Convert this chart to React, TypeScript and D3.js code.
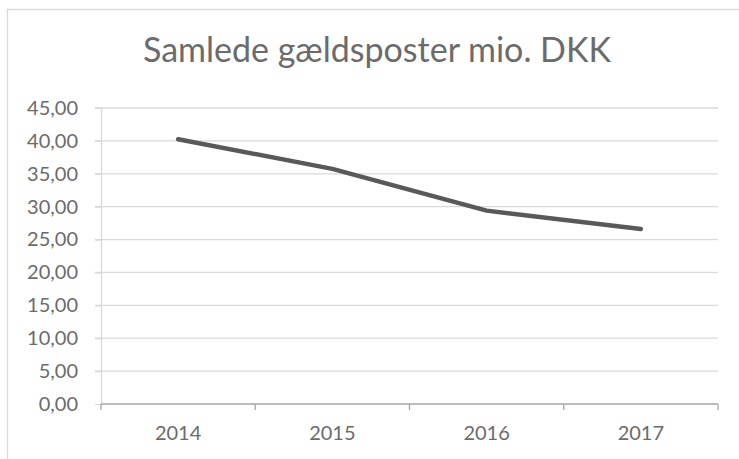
import { useEffect, useRef } from "react";
import * as d3 from "d3";

const years = ["2014", "2015", "2016", "2017"];
const debt = [40.25, 35.75, 29.4, 26.6];
const yTicks = [0, 5, 10, 15, 20, 25, 30, 35, 40, 45];
const title = "Samlede gældsposter mio. DKK";

const W = 739;
const H = 459;
const FONT = "Lato, 'Open Sans', sans-serif";
const TEXT = "#6b6b6b";

export default function App() {
  const svgRef = useRef<SVGSVGElement>(null);

  useEffect(() => {
    if (!svgRef.current) return;
    const svg = d3.select(svgRef.current);
    svg.selectAll("*").remove();

    const plot = { left: 101, right: 718, top: 108, bottom: 404 };

    const x = d3
      .scaleBand<string>()
      .domain(years)
      .range([plot.left, plot.right]);

    const y = d3
      .scaleLinear()
      .domain([0, 45])
      .range([plot.bottom, plot.top]);

    // chart area frame (runs off the right and bottom of the window)
    svg
      .append("rect")
      .attr("x", 7.5)
      .attr("y", 9.5)
      .attr("width", W + 20)
      .attr("height", H + 20)
      .attr("fill", "#fff")
      .attr("stroke", "#d9d9d9")
      .attr("stroke-width", 1.3);

    svg
      .append("text")
      .attr("x", 377)
      .attr("y", 62)
      .attr("text-anchor", "middle")
      .attr("font-family", FONT)
      .attr("font-size", 34)
      .attr("fill", TEXT)
      .text(title);

    // horizontal gridlines, with the little tick stub left of the axis
    svg
      .append("g")
      .selectAll("line")
      .data(yTicks.filter((t) => t > 0))
      .join("line")
      .attr("x1", plot.left - 6)
      .attr("x2", plot.right)
      .attr("y1", (d) => y(d))
      .attr("y2", (d) => y(d))
      .attr("stroke", "#d9d9d9")
      .attr("stroke-width", 1.3);

    // y axis line + labels
    const yAxis = svg
      .append("g")
      .attr("transform", `translate(${plot.left},0)`)
      .call(
        d3
          .axisLeft(y)
          .tickValues(yTicks)
          .tickSize(6)
          .tickSizeOuter(0)
          .tickPadding(17)
          .tickFormat((d) => d3.format(".2f")(d as number).replace(".", ","))
      );
    yAxis.select(".domain").attr("stroke", "#d9d9d9").attr("stroke-width", 1.3);
    yAxis.selectAll(".tick line").attr("stroke", "#d9d9d9").attr("stroke-width", 1.3);
    yAxis
      .selectAll("text")
      .attr("font-family", FONT)
      .attr("font-size", 20)
      .attr("fill", TEXT);

    // x axis: line, ticks on category boundaries, labels centred
    const bounds = [...years.map((d) => x(d) as number), plot.right];
    svg
      .append("line")
      .attr("x1", plot.left)
      .attr("x2", plot.right)
      .attr("y1", plot.bottom)
      .attr("y2", plot.bottom)
      .attr("stroke", "#a6a6a6")
      .attr("stroke-width", 1.5);
    svg
      .append("g")
      .selectAll("line")
      .data(bounds)
      .join("line")
      .attr("x1", (d) => d)
      .attr("x2", (d) => d)
      .attr("y1", plot.bottom)
      .attr("y2", plot.bottom + 6)
      .attr("stroke", "#a6a6a6")
      .attr("stroke-width", 1.3);

    const xAxis = svg
      .append("g")
      .attr("transform", `translate(0,${plot.bottom})`)
      .call(d3.axisBottom(x).tickSize(0).tickPadding(22));
    xAxis.select(".domain").remove();
    xAxis
      .selectAll("text")
      .attr("font-family", FONT)
      .attr("font-size", 20)
      .attr("fill", TEXT);

    const line = d3
      .line<number>()
      .x((_, i) => (x(years[i]) as number) + x.bandwidth() / 2)
      .y((d) => y(d));

    svg
      .append("path")
      .datum(debt)
      .attr("d", line)
      .attr("fill", "none")
      .attr("stroke", "#595959")
      .attr("stroke-width", 4.5)
      .attr("stroke-linecap", "round")
      .attr("stroke-linejoin", "round");
  }, []);

  return (
    <div style={{ position: "absolute", left: 0, top: 0 }}>
      <svg ref={svgRef} width={W} height={H} style={{ display: "block" }} />
    </div>
  );
}
